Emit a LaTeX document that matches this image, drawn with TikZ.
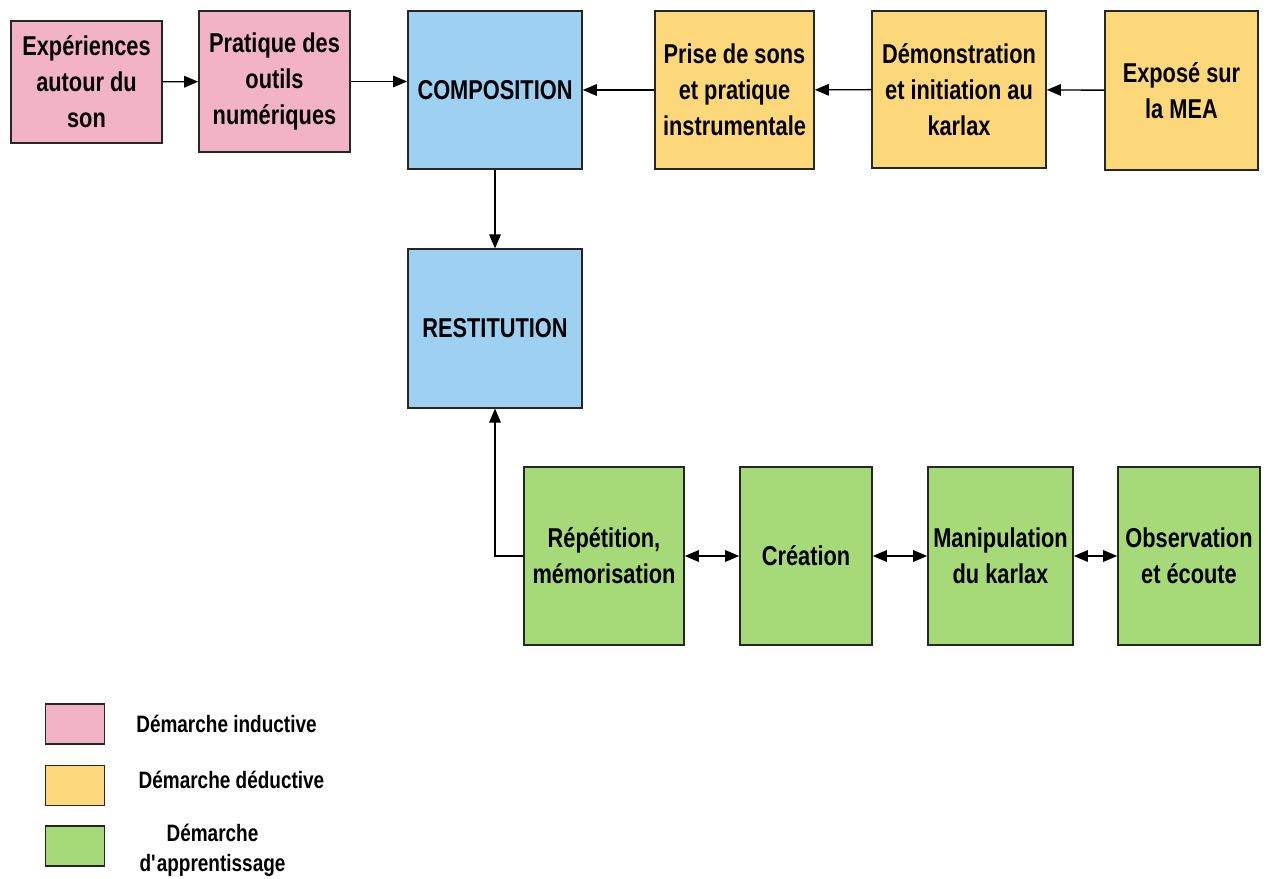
\documentclass[tikz,border=0pt]{standalone}
\usepackage{xcolor}
\usepackage{tikz}
\usepackage{fontspec}
\setmainfont{Liberation Sans}[FakeStretch=0.8]
\usetikzlibrary{shapes.geometric, arrows.meta, positioning}
\definecolor{pinkfill}{HTML}{F3B3C6}
\definecolor{bluefill}{HTML}{9DD0F1}
\definecolor{yellowfill}{HTML}{FDD87B}
\definecolor{greenfill}{HTML}{A6D978}
\newcommand{\straightquote}{\XeTeXglyph\XeTeXcharglyph"27\relax}
\tikzstyle{block} = [rectangle, inner sep=0pt, align=center, draw=black!85, line width=0.9pt, font=\fontsize{15.5}{20.5}\selectfont\bfseries]
\tikzstyle{inductive} = [block, fill=pinkfill]
\tikzstyle{central} = [block, fill=bluefill, minimum width=3.48cm, minimum height=3.17cm]
\tikzstyle{deductive} = [block, fill=yellowfill]
\tikzstyle{learning} = [block, fill=greenfill, minimum height=3.56cm]
\tikzstyle{legendbox} = [rectangle, draw=black!85, line width=0.9pt, minimum width=1.18cm, minimum height=0.8cm]
\tikzstyle{legendtext} = [align=center, font=\fontsize{13.5}{17}\selectfont\bfseries]
\tikzstyle{arrow} = [line width=0.8pt, -{Triangle[length=2.8mm,width=2.3mm]}]
\tikzstyle{twoway} = [line width=0.8pt, {Triangle[length=2.8mm,width=2.3mm]}-{Triangle[length=2.8mm,width=2.3mm]}]

\begin{document}
\begin{tikzpicture}
	\useasboundingbox (0,0) rectangle (25.36,-17.58);

		% Draw the nodes
		\node (exp) [inductive, minimum width=3.02cm, minimum height=2.44cm] at (1.73,-1.64) {Expériences\\ autour du\\ son};
		\node (prat) [inductive, minimum width=3.02cm, minimum height=2.82cm] at (5.49,-1.63) {Pratique des\\ outils\\ numériques};
		\node (comp) [central] at (9.90,-1.80) {COMPOSITION};
		\node (prise) [deductive, minimum width=3.18cm, minimum height=3.16cm] at (14.69,-1.80) {Prise de sons\\ et pratique\\ instrumentale};
		\node (demo) [deductive, minimum width=3.48cm, minimum height=3.14cm] at (19.18,-1.79) {Démonstration\\ et initiation au\\ karlax};
		\node (expo) [deductive, minimum width=3.06cm, minimum height=3.18cm] at (23.63,-1.81) {Exposé sur\\ la MEA};
		\node (rest) [central] at (9.90,-6.57) {RESTITUTION};
		\node (rep) [learning, minimum width=3.20cm] at (12.08,-11.12) {Répétition,\\ mémorisation};
		\node (crea) [learning, minimum width=2.64cm] at (16.12,-11.12) {Création};
		\node (manip) [learning, minimum width=2.90cm] at (20.01,-11.12) {Manipulation\\ du karlax};
		\node (obs) [learning, minimum width=2.84cm] at (23.78,-11.12) {Observation\\ et écoute};

		% Legend
		\node (keyind) [legendbox, fill=pinkfill] at (1.50,-14.48) {};
		\node (keyded) [legendbox, fill=yellowfill, below=0.40cm of keyind] {};
		\node (keyapp) [legendbox, fill=greenfill, below=0.38cm of keyded] {};
		\node (txtind) [legendtext] at (4.53,-14.47) {Démarche inductive};
		\node (txtded) [legendtext] at (4.63,-15.60) {Démarche déductive};
		\node (txtapp) [legendtext] at (4.25,-17.00) {Démarche\\ d\straightquote apprentissage};

		%Draw the arrows
		\draw [arrow] (exp) -- (prat);
		\draw [arrow] (prat.east) -- (prat.east -| comp.west);
		\draw [arrow] (prise) -- (comp);
		\draw [arrow] (demo) -- (prise);
		\draw [arrow] (expo) -- (demo);
		\draw [arrow] (comp) -- (rest);
		\draw [arrow] (rep.west) -| (rest.south);
		\draw [twoway] (rep) -- (crea);
		\draw [twoway] (crea) -- (manip);
		\draw [twoway] (manip) -- (obs);

	\end{tikzpicture}
\end{document}
